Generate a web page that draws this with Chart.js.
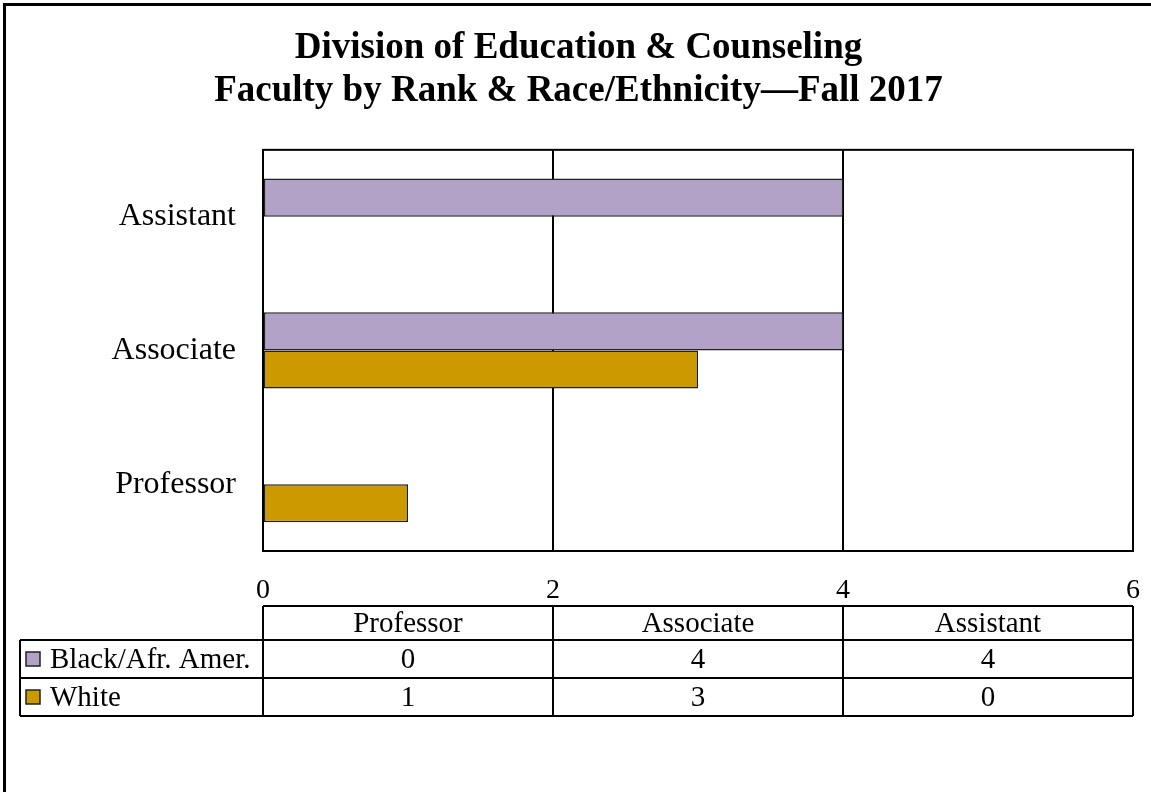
<!DOCTYPE html>
<html>
<head>
<meta charset="utf-8">
<style>
  html, body { margin: 0; padding: 0; background: #fff; }
  #wrap { width: 1151px; height: 792px; }
</style>
<script src="https://cdn.jsdelivr.net/npm/chart.js@4"></script>
</head>
<body>
<div id="wrap"><canvas id="chart" width="1151" height="792"></canvas></div>
<script>
// data, in table order (Professor, Associate, Assistant)
const categories = ["Professor", "Associate", "Assistant"]
const seriesNames = ["Black/Afr. Amer.", "White"]
const blackValues = [0, 4, 4]
const whiteValues = [1, 3, 0]
const xTicks = [0, 2, 4, 6]

const colors = ["#B3A2C7", "#CC9900"]
const serif = "'Liberation Serif', 'Times New Roman', serif"

// chart draws Assistant at the top, so flip the order
const chartLabels = categories.slice().reverse()
const seriesValues = [blackValues, whiteValues]

const frame = {
  id: "frame",
  beforeDraw(chart) {
    const ctx = chart.ctx
    ctx.save()
    ctx.fillStyle = "#fff"
    ctx.fillRect(0, 0, chart.width, chart.height)
    ctx.strokeStyle = "#000"
    ctx.lineWidth = 3
    ctx.strokeRect(4.5, 4.5, chart.width + 20, chart.height + 20)
    ctx.restore()
  },
  afterDraw(chart) {
    const ctx = chart.ctx
    const a = chart.chartArea
    ctx.save()
    ctx.strokeStyle = "#000"
    ctx.lineWidth = 2
    ctx.strokeRect(a.left, a.top, a.right - a.left, a.bottom - a.top)

    // data table
    const colW = (a.right - a.left) / categories.length
    const top = 606
    const headH = 34
    const rowH = 38
    const labelLeft = 20
    ctx.lineWidth = 2
    ctx.beginPath()
    ctx.moveTo(a.left, top); ctx.lineTo(a.right, top)
    for (let r = 0; r <= seriesNames.length; r++) {
      const y = top + headH + r * rowH
      ctx.moveTo(labelLeft, y); ctx.lineTo(a.right, y)
    }
    for (let c = 0; c <= categories.length; c++) {
      const x = a.left + c * colW
      ctx.moveTo(x, top); ctx.lineTo(x, top + headH + seriesNames.length * rowH)
    }
    ctx.moveTo(labelLeft, top + headH)
    ctx.lineTo(labelLeft, top + headH + seriesNames.length * rowH)
    ctx.stroke()

    ctx.fillStyle = "#000"
    ctx.font = "29px " + serif
    ctx.textBaseline = "middle"
    ctx.textAlign = "center"
    categories.forEach((c, i) => {
      ctx.fillText(c, a.left + (i + 0.5) * colW, top + headH / 2 + 1)
    })
    seriesNames.forEach((name, r) => {
      const yMid = top + headH + r * rowH + rowH / 2
      ctx.fillStyle = colors[r]
      ctx.fillRect(26, yMid - 7, 14, 14)
      ctx.strokeStyle = "#222"
      ctx.lineWidth = 1.5
      ctx.strokeRect(26, yMid - 7, 14, 14)
      ctx.fillStyle = "#000"
      ctx.textAlign = "left"
      ctx.fillText(name, 50, yMid + 1)
      ctx.textAlign = "center"
      seriesValues[r].forEach((v, i) => {
        ctx.fillText(String(v), a.left + (i + 0.5) * colW, yMid + 1)
      })
    })
    ctx.restore()
  }
}

new Chart(document.getElementById("chart"), {
  type: "bar",
  data: {
    labels: chartLabels,
    datasets: seriesNames.map((name, i) => ({
      label: name,
      data: seriesValues[i].slice().reverse(),
      backgroundColor: colors[i],
      borderColor: "#222",
      borderWidth: 1.5,
      borderSkipped: false,
      categoryPercentage: 0.57,
      barPercentage: 1,
    })),
  },
  options: {
    indexAxis: "y",
    responsive: false,
    animation: false,
    layout: { padding: { left: 24, right: 18, top: 0, bottom: 0 } },
    plugins: {
      legend: { display: false },
      tooltip: { enabled: false },
      title: {
        display: true,
        text: ["Division of Education & Counseling", "Faculty by Rank & Race/Ethnicity\u2014Fall 2017"],
        color: "#000",
        font: { family: serif, size: 37, weight: "bold", lineHeight: 1.16 },
        padding: { top: 27, bottom: 37 },
      },
    },
    scales: {
      x: {
        min: 0,
        max: 6,
        afterBuildTicks(scale) {
          scale.ticks = xTicks.map((v) => ({ value: v }))
        },
        afterFit(scale) {
          scale.height = 241
          scale.paddingLeft = 0
          scale.paddingRight = 0
        },
        grid: { color: "#000", lineWidth: 2, drawTicks: false },
        border: { display: false },
        ticks: { color: "#000", padding: 23, font: { family: serif, size: 28 } },
      },
      y: {
        afterFit(scale) {
          scale.width = 239
          scale.paddingTop = 0
          scale.paddingBottom = 0
        },
        grid: { display: false, drawTicks: false },
        border: { display: false },
        ticks: { color: "#000", padding: 27, font: { family: serif, size: 32 } },
      },
    },
  },
  plugins: [frame],
})
</script>
</body>
</html>
